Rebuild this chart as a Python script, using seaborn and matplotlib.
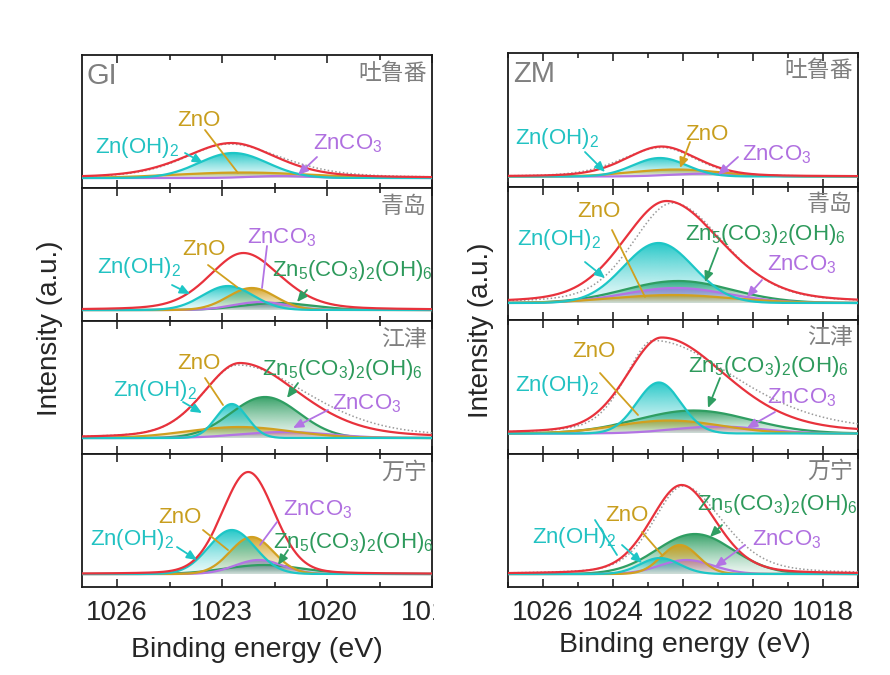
import numpy as np
import matplotlib
matplotlib.use("Agg")
import matplotlib.pyplot as plt
import seaborn as sns
from matplotlib.colors import to_rgb
from matplotlib.path import Path
from matplotlib.patches import PathPatch
from matplotlib.ticker import MultipleLocator
from matplotlib.transforms import Bbox

nan = np.nan

# ---------------------------------------------------------------- data
cities = ["吐鲁番", "青岛", "江津", "万宁"]
species = ["Zn(OH)2", "ZnO", "ZnCO3", "Zn5(CO3)2(OH)6"]
species_tex = [r"Zn(OH)$_2$", "ZnO", r"ZnCO$_3$", r"Zn$_5$(CO$_3$)$_2$(OH)$_6$"]

# fitted Gaussian components: rows = cities, columns = species
gi_center = [
    [1022.68, 1022.40, 1021.30, nan],
    [1022.83, 1022.15, 1021.90, 1021.40],
    [1022.72, 1022.50, 1021.20, 1021.77],
    [1022.72, 1022.15, 1021.95, 1021.80],
]
gi_height = [
    [25.0, 5.5, 2.0, nan],
    [24.0, 22.0, 8.0, 7.0],
    [34.0, 11.0, 6.0, 41.0],
    [44.0, 37.0, 14.0, 9.0],
]
gi_fwhm = [
    [2.30, 4.50, 2.00, nan],
    [1.70, 1.60, 1.80, 2.40],
    [1.05, 3.50, 3.00, 2.30],
    [1.57, 1.45, 1.60, 2.60],
]
# envelope / measured: centre, height, half width (high-BE side), half width (low-BE side), Lorentz fraction
gi_envelope = [
    [1022.72, 35.0, 1.60, 1.50, 0.40],
    [1022.39, 57.0, 1.15, 1.25, 0.30],
    [1022.49, 75.0, 1.24, 2.00, 0.30],
    [1022.25, 102.0, 0.88, 0.88, 0.15],
]
gi_measured = [
    [1022.80, 34.0, 1.50, 1.80, 0.40],
    [nan, nan, nan, nan, nan],
    [1022.55, 73.0, 1.20, 2.40, 0.35],
    [nan, nan, nan, nan, nan],
]

zm_center = [
    [1022.66, 1022.20, 1021.20, nan],
    [1022.70, 1022.30, 1022.20, 1022.14],
    [1022.69, 1022.40, 1021.00, 1021.70],
    [1022.66, 1022.09, 1021.90, 1021.66],
]
zm_height = [
    [18.5, 7.0, 3.0, nan],
    [60.0, 8.0, 15.0, 22.0],
    [51.0, 13.0, 7.0, 23.0],
    [16.0, 29.0, 14.0, 40.0],
]
zm_fwhm = [
    [1.80, 3.00, 2.50, nan],
    [2.35, 4.00, 3.50, 3.60],
    [1.48, 3.50, 3.00, 3.80],
    [1.33, 1.24, 1.80, 2.57],
]
zm_envelope = [
    [1022.61, 30.0, 1.20, 1.20, 0.30],
    [1022.47, 102.0, 1.48, 1.86, 0.30],
    [1022.61, 96.0, 1.19, 2.19, 0.30],
    [1022.04, 89.0, 1.05, 1.14, 0.25],
]
zm_measured = [
    [1022.60, 29.0, 1.35, 1.15, 0.30],
    [1022.30, 100.0, 1.35, 1.75, 0.30],
    [1022.85, 93.0, 0.95, 2.80, 0.40],
    [1022.00, 88.0, 1.00, 1.35, 0.35],
]

# ---------------------------------------------------------------- style
sns.set_theme(style="ticks")
plt.rcParams["font.family"] = ["Liberation Sans", "Noto Sans CJK SC", "DejaVu Sans"]
plt.rcParams["mathtext.default"] = "regular"
plt.rcParams["axes.linewidth"] = 1.3
plt.rcParams["axes.edgecolor"] = "#1a1a1a"

line_colors = ["#1DC6C6", "#D1A020", "#B374E4", "#2F9E62"]
text_colors = ["#22C2C2", "#C89E1E", "#B070E0", "#2E9A5C"]
red = "#E8323C"
gray = "#9A9A9A"
label_gray = "#7F7F7F"

W, H = 890, 675
fig = plt.figure(figsize=(W / 100, H / 100), dpi=100)

# axes frames in pixels (left, top of first row, width, row height)
frames = {"GI": (82, 55, 350, 133.0), "ZM": (508, 53, 350, 133.5)}
floors = {"GI": [10, 11, 16, 13], "ZM": [10, 17, 20, 13]}

# label layout in pixels: (species, text left, text baseline, arrow start, arrow tip, arrow head)
labels = {
    "GI": [
        [(0, 95, 153, (185, 153), (203, 163), True), (1, 177, 126, (205, 130), (238, 173), False),
         (2, 313, 149, (317, 157), (298, 175), True)],
        [(0, 97, 273, (172, 285), (190, 294), True), (1, 182, 255, (208, 265), (237, 287), False),
         (2, 247, 243, (267, 246), (262, 288), False), (3, 272, 276, (307, 290), (297, 302), True)],
        [(0, 113, 396, (183, 402), (202, 413), True), (1, 177, 369, (205, 378), (223, 405), False),
         (3, 262, 375, (298, 383), (287, 398), True), (2, 332, 409, (328, 410), (293, 428), True)],
        [(0, 90, 545, (177, 547), (197, 560), True), (1, 158, 523, (203, 530), (228, 550), False),
         (2, 283, 515, (277, 522), (260, 545), False), (3, 273, 548, (288, 550), (278, 565), True)],
    ],
    "ZM": [
        [(0, 515, 144, (585, 152), (605, 172), True), (1, 685, 140, (690, 142), (680, 168), True),
         (2, 742, 160, (738, 157), (718, 175), True)],
        [(0, 517, 245, (585, 262), (605, 278), True), (1, 577, 217, (612, 230), (645, 297), False),
         (3, 685, 240, (718, 248), (705, 282), True), (2, 767, 270, (762, 280), (747, 297), True)],
        [(0, 515, 391, None, None, False), (1, 572, 357, (600, 373), (638, 415), False),
         (3, 688, 372, (720, 378), (708, 408), True), (2, 767, 403, (775, 412), (747, 428), True)],
        [(0, 532, 543, (622, 545), (642, 563), True), (1, 605, 521, (642, 532), (662, 555), False),
         (3, 697, 510, (722, 525), (710, 537), True), (2, 752, 545, (745, 545), (715, 567), True)],
    ],
}

energy = np.linspace(1017.0, 1027.0, 800)


def gauss(x, c, h, fwhm):
    return h * np.exp(-4.0 * np.log(2.0) * ((x - c) / fwhm) ** 2)


def pvoigt(x, c, h, w_hi, w_lo, eta):
    hw = np.where(x >= c, w_hi, w_lo)
    u = ((x - c) / hw) ** 2
    return h * ((1.0 - eta) * np.exp(-np.log(2.0) * u) + eta / (1.0 + u))


def gradient_fill(ax, x, y, color):
    top = float(np.max(y))
    verts = np.column_stack([np.r_[x[0], x, x[-1]], np.r_[0.0, y, 0.0]])
    patch = PathPatch(Path(verts), facecolor="none", edgecolor="none", transform=ax.transData)
    ax.add_patch(patch)
    ramp = np.linspace(0.0, 1.0, 200)[:, None]
    rgba = np.zeros((200, 2, 4))
    rgba[..., :3] = to_rgb(color)
    rgba[..., 3] = 0.10 + 0.85 * ramp ** 1.3
    im = ax.imshow(rgba, extent=[x.min(), x.max(), 0.0, top], origin="lower",
                   aspect="auto", interpolation="bilinear", zorder=2)
    im.set_clip_path(patch)


def draw_panel(ax, centers, heights, fwhms, envelope, measured):
    for k in [3, 2, 1, 0]:
        if np.isnan(heights[k]):
            continue
        y = gauss(energy, centers[k], heights[k], fwhms[k])
        gradient_fill(ax, energy, y, line_colors[k])
        sns.lineplot(x=energy, y=y, ax=ax, color=line_colors[k], lw=1.6, zorder=3)
    if not np.isnan(measured[0]):
        sns.lineplot(x=energy, y=pvoigt(energy, *measured), ax=ax, color=gray,
                     lw=1.1, linestyle=(0, (1, 1.5)), zorder=4)
    sns.lineplot(x=energy, y=pvoigt(energy, *envelope), ax=ax, color=red, lw=1.6, zorder=5)


samples = {
    "GI": (gi_center, gi_height, gi_fwhm, gi_envelope, gi_measured),
    "ZM": (zm_center, zm_height, zm_fwhm, zm_envelope, zm_measured),
}

bottom_axes = {}
for name, (cen, hgt, fw, env, meas) in samples.items():
    x0, top0, aw, ah = frames[name]
    for i, city in enumerate(cities):
        top = top0 + i * ah
        ax = fig.add_axes([x0 / W, 1 - (top + ah) / H, aw / W, ah / H])
        draw_panel(ax, cen[i], hgt[i], fw[i], env[i], meas[i])
        ax.set_xlim(1027, 1017)
        ax.set_ylim(-floors[name][i], ah - floors[name][i])
        step = 3 if name == "GI" else 2
        ax.xaxis.set_major_locator(MultipleLocator(step))
        ax.xaxis.set_minor_locator(MultipleLocator(step / 2))
        ax.set_yticks([])
        ax.set_xlabel("")
        ax.set_ylabel("")
        ax.tick_params(axis="x", which="both", direction="in", top=True, bottom=True,
                       width=1.2, labelsize=20, pad=9, labelbottom=(i == 3))
        ax.tick_params(axis="x", which="major", length=6)
        ax.tick_params(axis="x", which="minor", length=3.5)
        ax.text(0.985, 1 - 18 / ah, city, transform=ax.transAxes, ha="right", va="center",
                fontsize=16.5, color=label_gray)
        if i == 0:
            ax.text(5 / aw, 1 - 29 / ah, name, transform=ax.transAxes, ha="left",
                    va="baseline", fontsize=21, color=label_gray)
        for k, tx, ty, start, tip, head in labels[name][i]:
            fig.text(tx / W, 1 - ty / H, species_tex[k], color=text_colors[k], fontsize=16,
                     ha="left", va="baseline", zorder=6)
            if start is None:
                continue
            style = "-|>,head_length=0.5,head_width=0.22" if head else "-"
            ax.annotate("", xy=(tip[0], H - tip[1]), xytext=(start[0], H - start[1]),
                        xycoords="figure pixels", textcoords="figure pixels",
                        arrowprops=dict(arrowstyle=style, color=line_colors[k], lw=1.3,
                                        shrinkA=0, shrinkB=0), zorder=6)
        if i == 3:
            bottom_axes[name] = ax

# extra leader line next to the Zn(OH)2 label of ZM / 万宁
bottom_axes["ZM"].annotate("", xy=(617, H - 555), xytext=(595, H - 520),
                           xycoords="figure pixels", textcoords="figure pixels",
                           arrowprops=dict(arrowstyle="-", color=line_colors[0], lw=1.3,
                                           shrinkA=0, shrinkB=0), zorder=6)

fig.text(50 / W, 1 - 328 / H, "Intensity (a.u.)", rotation=90, ha="center", va="center", fontsize=20)
fig.text(481 / W, 1 - 330 / H, "Intensity (a.u.)", rotation=90, ha="center", va="center", fontsize=20)
fig.text(257 / W, 1 - 650 / H, "Binding energy (eV)", ha="center", va="center", fontsize=20.5)
fig.text(685 / W, 1 - 645 / H, "Binding energy (eV)", ha="center", va="center", fontsize=20.5)

# the GI panel's last tick label is cut at the frame edge
fig.canvas.draw()
for tick in bottom_axes["GI"].xaxis.get_major_ticks():
    if abs(tick.get_loc() - 1017) < 1e-6:
        tick.label1.set_clip_box(Bbox.from_extents(0, 0, 434, H))
        tick.label1.set_clip_on(True)

fig.savefig("out.png", dpi=100, facecolor="white")
